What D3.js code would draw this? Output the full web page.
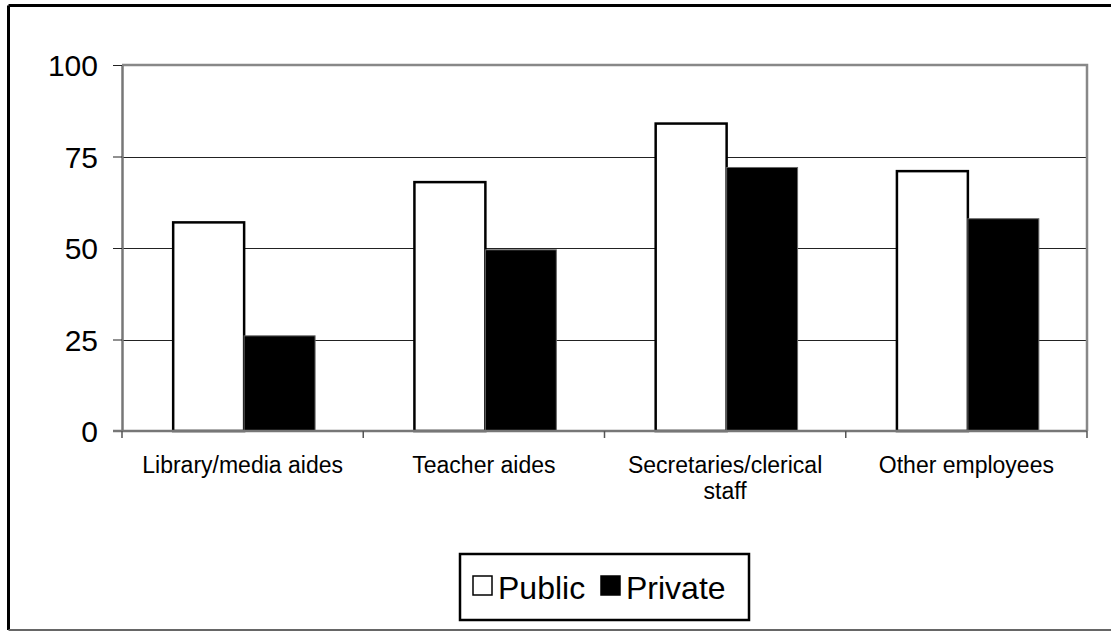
<!DOCTYPE html>
<html>
<head>
<meta charset="utf-8">
<script src="https://cdn.jsdelivr.net/npm/d3@7"></script>
<style>
  body { margin: 0; background: #fff; }
  svg { display: block; font-family: "Liberation Sans", Arial, sans-serif; }
</style>
</head>
<body>
<div id="chart"></div>
<script>
// data
let categories = ["Library/media aides", "Teacher aides", "Secretaries/clerical staff", "Other employees"];
let categoryLines = [["Library/media aides"], ["Teacher aides"], ["Secretaries/clerical", "staff"], ["Other employees"]];
let seriesNames = ["Public", "Private"];
let publicValues = [57, 68, 84, 71];
let privateValues = [26, 49.5, 72, 58];
let yTicks = [0, 25, 50, 75, 100];

let canvasWidth = 1111;
let canvasHeight = 631;

let plotLeft = 122, plotRight = 1087, plotTop = 65, plotBottom = 431;

let svg = d3.select("div#chart")
    .append("svg")
    .attr("width", canvasWidth)
    .attr("height", canvasHeight);

// outer frame (right side is cut off in the original)
svg.append("line")
    .attr("x1", 8.5).attr("y1", 5.5).attr("x2", canvasWidth).attr("y2", 5.5)
    .attr("stroke", "#000").attr("stroke-width", 3);
svg.append("line")
    .attr("x1", 8.5).attr("y1", 5.5).attr("x2", 8.5).attr("y2", 630)
    .attr("stroke", "#000").attr("stroke-width", 3);
svg.append("line")
    .attr("x1", 8.5).attr("y1", 630).attr("x2", canvasWidth).attr("y2", 630)
    .attr("stroke", "#666").attr("stroke-width", 2);

let xScale = d3.scaleBand().domain(categories).range([plotLeft, plotRight]).padding(0);
let xInner = d3.scaleBand().domain(seriesNames).range([0, xScale.bandwidth()])
    .paddingInner(0).paddingOuter(0.7);
let yScale = d3.scaleLinear().domain([0, 100]).range([plotBottom, plotTop]);

// grid lines
svg.append("g")
    .selectAll("line")
    .data(yTicks.filter(d => d > 0 && d < 100))
    .join("line")
    .attr("x1", plotLeft).attr("x2", plotRight)
    .attr("y1", d => Math.round(yScale(d)) + 0.5)
    .attr("y2", d => Math.round(yScale(d)) + 0.5)
    .attr("stroke", "#222").attr("stroke-width", 1);

// plot area border (top and right grey)
svg.append("path")
    .attr("d", "M" + plotLeft + "," + plotTop + "H" + plotRight + "V" + plotBottom)
    .attr("fill", "none")
    .attr("stroke", "#888")
    .attr("stroke-width", 2.5);

// bars
let rows = categories.map((c, i) => ({ cat: c, Public: publicValues[i], Private: privateValues[i] }));

let groups = svg.append("g")
    .selectAll("g")
    .data(rows)
    .join("g")
    .attr("transform", d => "translate(" + (xScale(d.cat) + 1.5) + ",0)");

groups.selectAll("rect")
    .data(d => seriesNames.map(s => ({ key: s, value: d[s] })))
    .join("rect")
    .attr("x", d => xInner(d.key))
    .attr("y", d => yScale(d.value))
    .attr("width", xInner.bandwidth())
    .attr("height", d => yScale(0) - yScale(d.value))
    .attr("fill", d => d.key === "Public" ? "#fff" : "#000")
    .attr("stroke", d => d.key === "Public" ? "#000" : "#666")
    .attr("stroke-width", d => d.key === "Public" ? 2.5 : 1);

// y axis
let yAxis = svg.append("g")
    .attr("transform", "translate(" + plotLeft + ",0)")
    .call(d3.axisLeft(yScale).tickValues(yTicks).tickSize(9).tickPadding(15).tickSizeOuter(0));
yAxis.select(".domain").attr("stroke", "#777").attr("stroke-width", 2.5);
yAxis.selectAll(".tick line").attr("stroke", "#222");
yAxis.selectAll(".tick text")
    .attr("font-size", 30)
    .attr("font-family", "Liberation Sans, Arial, sans-serif")
    .attr("fill", "#000")
    .attr("dy", "0.36em");

// x axis
let xAxis = svg.append("g")
    .attr("transform", "translate(0," + plotBottom + ")");
xAxis.append("line")
    .attr("x1", plotLeft - 9).attr("x2", plotRight)
    .attr("y1", 0).attr("y2", 0)
    .attr("stroke", "#777").attr("stroke-width", 2.5);
let boundaries = categories.map(c => xScale(c)).concat([plotRight]);
xAxis.selectAll("line.tk")
    .data(boundaries)
    .join("line")
    .attr("class", "tk")
    .attr("x1", d => d).attr("x2", d => d)
    .attr("y1", 0).attr("y2", 7)
    .attr("stroke", "#555").attr("stroke-width", 1.5);

// category labels
xAxis.selectAll("text.cat")
    .data(categories)
    .join("text")
    .attr("class", "cat")
    .attr("text-anchor", "middle")
    .attr("font-size", 23)
    .attr("fill", "#000")
    .attr("transform", d => "translate(" + (xScale(d) + xScale.bandwidth() / 2) + ",42)")
    .selectAll("tspan")
    .data((d, i) => categoryLines[i])
    .join("tspan")
    .attr("x", 0)
    .attr("y", (d, i) => i * 26)
    .text(d => d);

// legend
let legend = svg.append("g").attr("transform", "translate(460,554)");
legend.append("rect")
    .attr("x", 0).attr("y", 0)
    .attr("width", 289).attr("height", 66)
    .attr("fill", "#fff").attr("stroke", "#000").attr("stroke-width", 2.5);

let legendX = [13, 141];
let items = legend.selectAll("g.item")
    .data(seriesNames)
    .join("g")
    .attr("class", "item")
    .attr("transform", (d, i) => "translate(" + legendX[i] + ",0)");
items.append("rect")
    .attr("x", 0).attr("y", 22)
    .attr("width", 19).attr("height", 19)
    .attr("fill", d => d === "Public" ? "#fff" : "#000")
    .attr("stroke", "#000").attr("stroke-width", 1.5);
items.append("text")
    .attr("x", 25).attr("y", 45)
    .attr("font-size", 32)
    .attr("fill", "#000")
    .text(d => d);
</script>
</body>
</html>
